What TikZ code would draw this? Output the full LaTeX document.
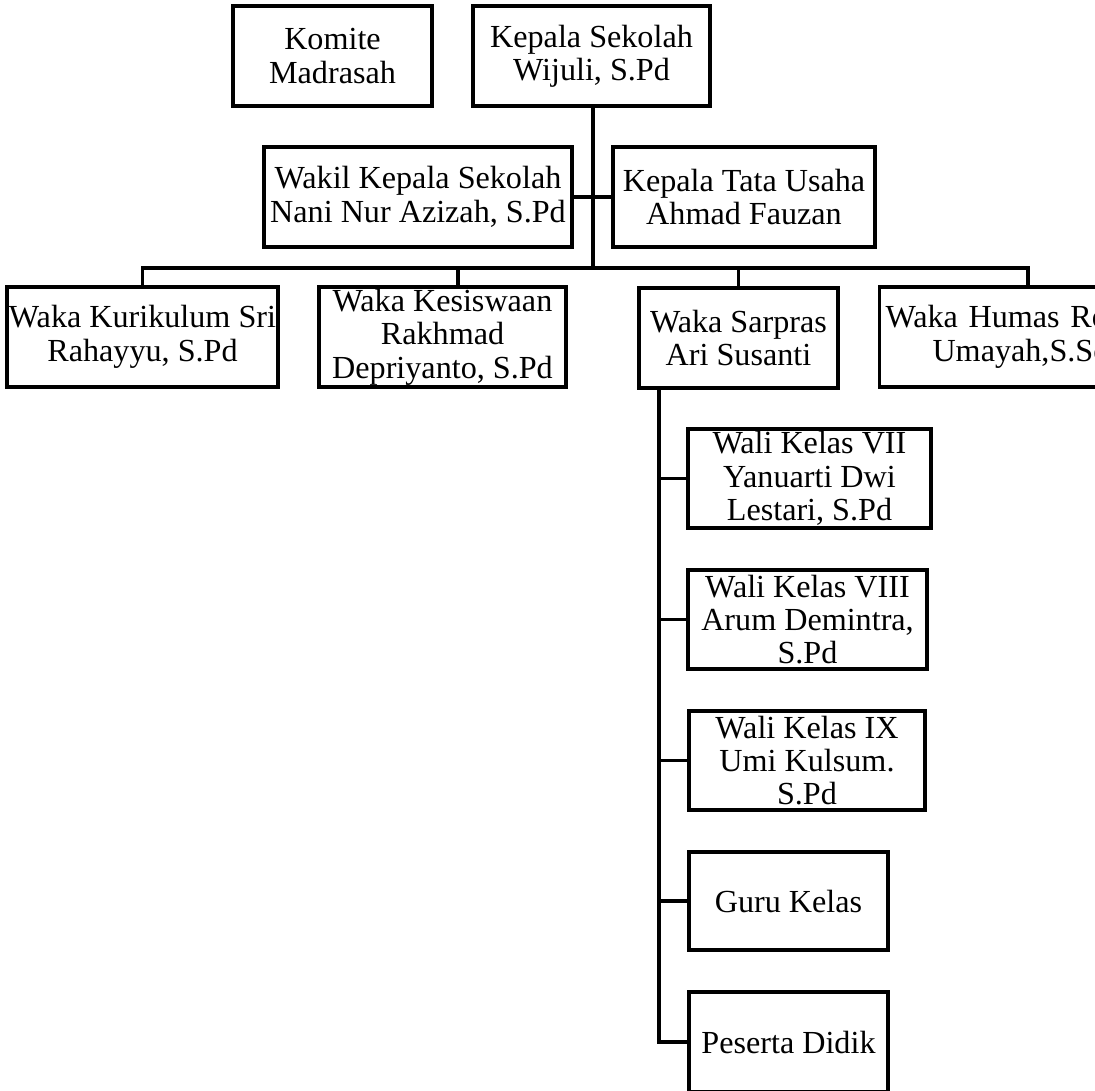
\documentclass[tikz,border=0pt]{standalone}
\usepackage{fontspec}
\setmainfont{Liberation Serif}
\begin{document}
\begin{tikzpicture}[x=0.02cm,y=-0.02cm,
	jabatan/.style={draw,line width=1.8pt,inner sep=1pt,align=center,
		minimum height=2cm,font=\fontsize{18.3}{19}\selectfont},
	garis/.style={line width=1.8pt}]
	\useasboundingbox (0,0) rectangle (1095,1091);
	\clip (0,0) rectangle (1095,1091);
	% pimpinan
	\node[jabatan,minimum width=3.98cm] (komite) at (332.5,56) {Komite\\Madrasah};
	\node[jabatan,minimum width=4.74cm] (kepala) at (591.5,56) {Kepala Sekolah\\Wijuli, S.Pd};
	\node[jabatan,minimum width=6.16cm] (wakil) at (418,197) {Wakil Kepala Sekolah\\Nani Nur Azizah, S.Pd};
	\node[jabatan,minimum width=5.24cm] (ktu) at (744,197) {Kepala Tata Usaha\\Ahmad Fauzan};
	% para waka
	\node[jabatan,minimum width=5.42cm] (kurikulum) at (142.5,337) {Waka Kurikulum Sri\\Rahayyu, S.Pd};
	\node[jabatan,minimum width=4.94cm] (kesiswaan) at (442.5,337) {Waka Kesiswaan\\Rakhmad\\Depriyanto, S.Pd};
	\node[jabatan,minimum width=3.98cm] (sarpras) at (738.5,338) {Waka Sarpras\\Ari Susanti};
	\node[jabatan,inner xsep=0.12cm,text width=5.7cm,align=left] (humas) at (1028,337)
		{Waka Humas Ro\\\hspace*{0.94cm}Umayah,S.Sc};
	% wali kelas dst
	\node[jabatan,minimum width=4.86cm,minimum height=1.98cm] (wali7) at (809.5,478.5) {Wali Kelas VII\\Yanuarti Dwi\\Lestari, S.Pd};
	\node[jabatan,minimum width=4.78cm,minimum height=1.98cm] (wali8) at (807.5,619.5) {Wali Kelas VIII\\Arum Demintra,\\S.Pd};
	\node[jabatan,minimum width=4.72cm,minimum height=1.98cm] (wali9) at (807,760.5) {Wali Kelas IX\\Umi Kulsum.\\S.Pd};
	\node[jabatan,minimum width=3.98cm,minimum height=1.96cm] (guru) at (788.5,901) {Guru Kelas};
	\node[jabatan,minimum width=3.98cm] (peserta) at (788.5,1042) {Peserta Didik};
	% garis
	\coordinate (bus) at (593,268);
	\coordinate (cabang) at (458,268);
	\coordinate (stem) at (659,390);
	\draw[garis] (kepala.south -| bus) -- (bus);
	\draw[garis] (wakil.east) -- (ktu.west);
	\draw[garis] (kurikulum.north) -- (kurikulum.north |- bus) -- (humas.north |- bus) -- (humas.north);
	\draw[garis] (cabang) -- (cabang |- kesiswaan.north);
	\draw[garis] (sarpras.north |- bus) -- (sarpras.north);
	\draw[garis] (stem |- sarpras.south) |- (peserta.west);
	\foreach \n in {wali7,wali8,wali9,guru}
		\draw[garis] (stem |- \n.west) -- (\n.west);
\end{tikzpicture}
\end{document}
